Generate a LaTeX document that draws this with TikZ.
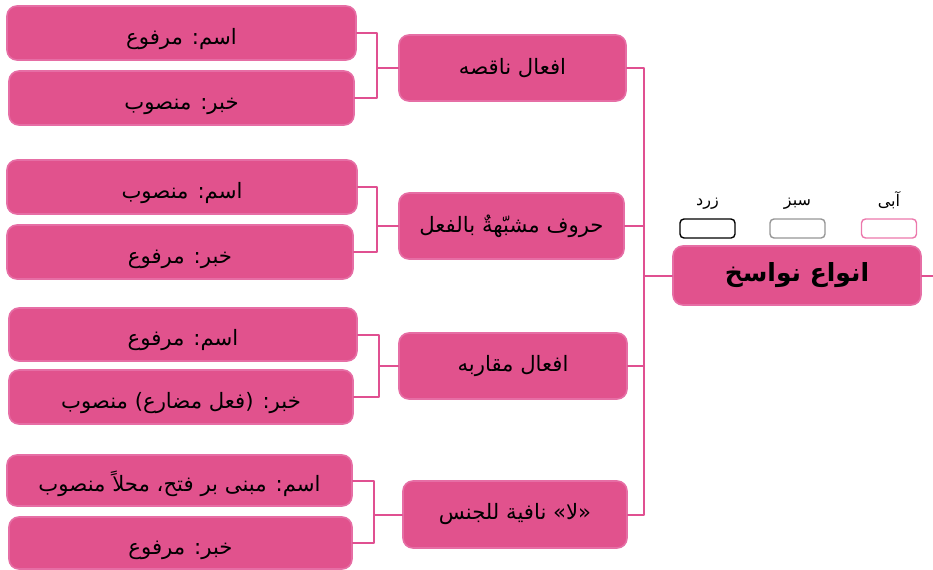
\documentclass[tikz,border=0pt]{standalone}
\usepackage{fontspec}
\usetikzlibrary{calc}
\newfontfamily\fa[Script=Arabic]{DejaVu Sans}
\TeXXeTstate=1
\definecolor{boxpink}{RGB}{225,82,141}
\definecolor{boxedge}{RGB}{230,110,165}
\definecolor{linkpink}{RGB}{224,80,145}
\definecolor{legendgray}{RGB}{150,150,150}
\definecolor{legendpink}{RGB}{236,120,172}
\begin{document}
\begin{tikzpicture}[x=0.5pt,y=-0.5pt,line join=round,line cap=round,
	box/.style={draw=boxedge,fill=boxpink,rounded corners=5pt,line width=0.8pt,inner sep=0pt,font=\fa\fontsize{10.6}{12}\selectfont},
	leaf/.style={box,text height=13pt,text depth=2pt},
	link/.style={draw=linkpink,line width=1pt},
	legend/.style={draw=#1,fill=white,rounded corners=2pt,line width=0.7pt,minimum width=27.5pt,minimum height=9.5pt}]
	\useasboundingbox (0,0) rectangle (933,569);
	% main topic
	\node[box,minimum width=124pt,minimum height=29.5pt,font=\fa\bfseries\fontsize{12.5}{15}\selectfont] (main) at (797,275.5) {\beginR انواع نواسخ\endR};
	% legend
	\node[legend=black] (lg1) at (707.5,228.5) {};
	\node[legend=legendgray] (lg2) at (797.5,228.5) {};
	\node[legend=legendpink] (lg3) at (889,228.5) {};
	\foreach \x/\t in {lg1/زرد, lg2/سبز, lg3/آبی} \node[font=\fa\fontsize{8}{10}\selectfont,above=1pt] at (\x.north) {\beginR \t\endR};
	% kinds
	\node[box,minimum width=113.5pt,minimum height=33pt] (m1) at (512.5,68) {\beginR افعال ناقصه\endR};
	\node[box,minimum width=112.5pt,minimum height=33pt] (m2) at (511.5,226) {\beginR حروف مشبّهةٌ بالفعل\endR};
	\node[box,minimum width=114pt,minimum height=33pt] (m3) at (513,366) {\beginR افعال مقاربه\endR};
	\node[box,minimum width=112pt,minimum height=33.5pt] (m4) at (515,514.5) {\beginR «لا» نافية للجنس\endR};
	% ism and khabar
	\node[leaf,minimum width=174.5pt,minimum height=27pt] (a1) at (181.5,33) {\beginR اسم: مرفوع\endR};
	\node[leaf,minimum width=172.5pt,minimum height=27pt] (b1) at (181.5,98) {\beginR خبر: منصوب\endR};
	\node[leaf,minimum width=175pt,minimum height=27pt] (a2) at (182,187) {\beginR اسم: منصوب\endR};
	\node[leaf,minimum width=173pt,minimum height=27pt] (b2) at (180,252) {\beginR خبر: مرفوع\endR};
	\node[leaf,minimum width=174pt,minimum height=26.5pt] (a3) at (183,334.5) {\beginR اسم: مرفوع\endR};
	\node[leaf,minimum width=172pt,minimum height=27pt] (b3) at (181,397) {\beginR خبر: (فعل مضارع) منصوب\endR};
	\node[leaf,minimum width=172.5pt,minimum height=25.5pt] (a4) at (179.5,480.5) {\beginR اسم: مبنی بر فتح، محلاً منصوب\endR};
	\node[leaf,minimum width=171.5pt,minimum height=26pt] (b4) at (180.5,543) {\beginR خبر: مرفوع\endR};
	% connectors
	\path (644,0) coordinate (spine) (933,0) coordinate (out);
	\draw[link] (m1.east) -| (spine |- m4.east) -- (m4.east);
	\foreach \m in {m2,m3} \draw[link] (\m.east) -- (spine |- \m.east);
	\draw[link] (main.west) -- (spine |- main.west);
	\draw[link] (main.east) -- (out |- main.east);
	\foreach \g/\d in {1/21,2/21,3/19,4/28} {
		\path (a\g.east -| m\g.west) ++(-\d,0) coordinate (j\g);
		\draw[link] (a\g.east) -- (j\g) |- (b\g.east);
		\draw[link] (j\g |- m\g.west) -- (m\g.west);
	}
\end{tikzpicture}
\end{document}
